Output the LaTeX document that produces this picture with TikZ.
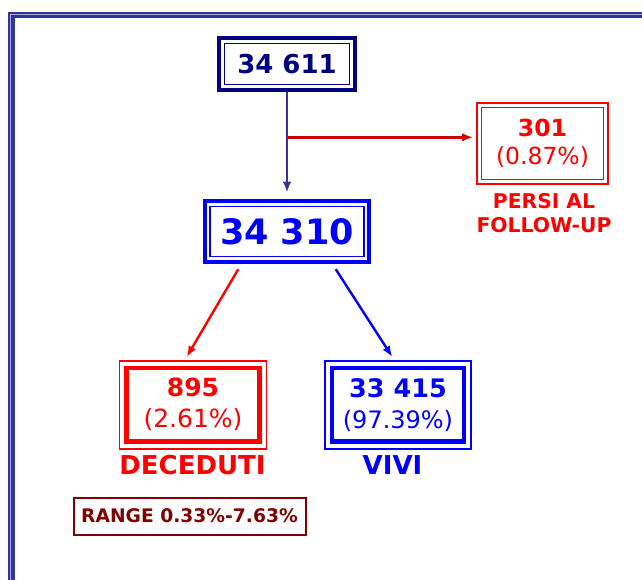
\documentclass[tikz,border=0pt]{standalone}
\usepackage{fontspec}
\setmainfont{DejaVu Sans}
\usetikzlibrary{calc}
\usetikzlibrary{arrows.meta}
\tikzset{>={Latex[length=11pt,width=8.5pt]}}
\definecolor{navy}{HTML}{000080}
\definecolor{slate}{HTML}{333399}
\definecolor{pale}{HTML}{A8A8E0}
\definecolor{vred}{HTML}{FF0000}
\definecolor{dred}{HTML}{D00000}
\definecolor{vblue}{HTML}{0000FF}
\definecolor{maroon}{HTML}{800000}
\tikzset{
  numbox/.style={draw=#1, text=#1, align=center, inner sep=0pt},
  caption/.style={text=#1, align=center, inner sep=0pt},
}

\begin{document}
\begin{tikzpicture}[x=1pt,y=-1pt]
  \useasboundingbox (0,0) rectangle (642,579);
  % slide frame
  \draw[pale, line width=5pt] (700,15.3) -- (11.5,15.3) -- (11.5,640);
  \draw[slate, line width=1.5pt] (700,12.9) -- (9.2,12.9) -- (9.2,640);
  \draw[slate, line width=3.2pt] (700,16.5) -- (13,16.5) -- (13,640);

  % counts
  \node[numbox=navy, line width=1.7pt, minimum width=125pt, minimum height=41pt,
    font=\fontsize{26}{31}\selectfont\bfseries] (total) at (287,64) {34 611};
  \draw[navy, line width=4.2pt] ([shift={(-4.5pt,-4.5pt)}]total.south west) rectangle ([shift={(4.5pt,4.5pt)}]total.north east);

  \node[numbox=vblue, line width=1.7pt, minimum width=154pt, minimum height=50pt,
    font=\fontsize{35}{42}\selectfont\bfseries] (mid) at (287,231.5) {34 310};
  \draw[vblue, line width=4.2pt] ([shift={(-4.5pt,-4.5pt)}]mid.south west) rectangle ([shift={(4.5pt,4.5pt)}]mid.north east);

  \node[numbox=vred, line width=1.8pt, minimum width=122pt, minimum height=72pt,
    font=\fontsize{23.5}{28}\selectfont] (lost) at (542.5,143.5) {{\bfseries 301}\\(0.87\%)};
  \draw[vred, line width=1.5pt] ([shift={(-3.8pt,-3.8pt)}]lost.south west) rectangle ([shift={(3.8pt,3.8pt)}]lost.north east);

  \node[numbox=vred, line width=4.2pt, minimum width=133pt, minimum height=73.5pt,
    font=\fontsize{25}{31}\selectfont] (dead) at (193,404.8) {{\bfseries 895}\\(2.61\%)};
  \draw[vred, line width=1.7pt] ([shift={(-5pt,-5pt)}]dead.south west) rectangle ([shift={(5pt,5pt)}]dead.north east);

  \node[numbox=vblue, line width=4.2pt, minimum width=132pt, minimum height=73.5pt,
    font=\fontsize{25}{31}\selectfont] (alive) at (398,404.8) {{\fontsize{25.5}{31}\selectfont\bfseries 33 415}\\{\fontsize{24}{31}\selectfont(97.39\%)}};
  \draw[vblue, line width=1.7pt] ([shift={(-5pt,-5pt)}]alive.south west) rectangle ([shift={(5pt,5pt)}]alive.north east);

  % captions
  \node[caption=vred, font=\fontsize{20.3}{24}\selectfont\bfseries] (lostlbl) at (544,213) {PERSI AL\\FOLLOW-UP};
  \node[caption=vred, font=\fontsize{26}{30}\selectfont\bfseries] (deadlbl) at (192.5,465) {DECEDUTI};
  \node[caption=vblue, font=\fontsize{26}{30}\selectfont\bfseries] (alivelbl) at (392.5,465) {VIVI};

  \node[draw=maroon, text=maroon, line width=2pt, minimum width=232pt, minimum height=37pt,
    font=\fontsize{18.7}{22}\selectfont\bfseries] (range) at (189.5,516) {RANGE 0.33\%-7.63\%};

  % arrows
  \coordinate (branch) at (287,137.3);
  \draw[slate, line width=2.6pt, ->] ([yshift=-6.5pt]total.south) -- ([yshift=13pt]mid.north);
  \draw[dred, line width=2.6pt, ->] ([xshift=1.3pt]branch) -- ($(branch -| lost.west)+(-7.5,0)$);
  \draw[vred, line width=2.4pt, ->] ($(mid.south)+(-48.7,11.8)$) -- ($(dead.north)+(-6.3,-9)$);
  \draw[vblue, line width=2.4pt, ->] ($(mid.south)+(48.7,11.8)$) -- ($(alive.north)+(-5.7,-9)$);
\end{tikzpicture}
\end{document}
